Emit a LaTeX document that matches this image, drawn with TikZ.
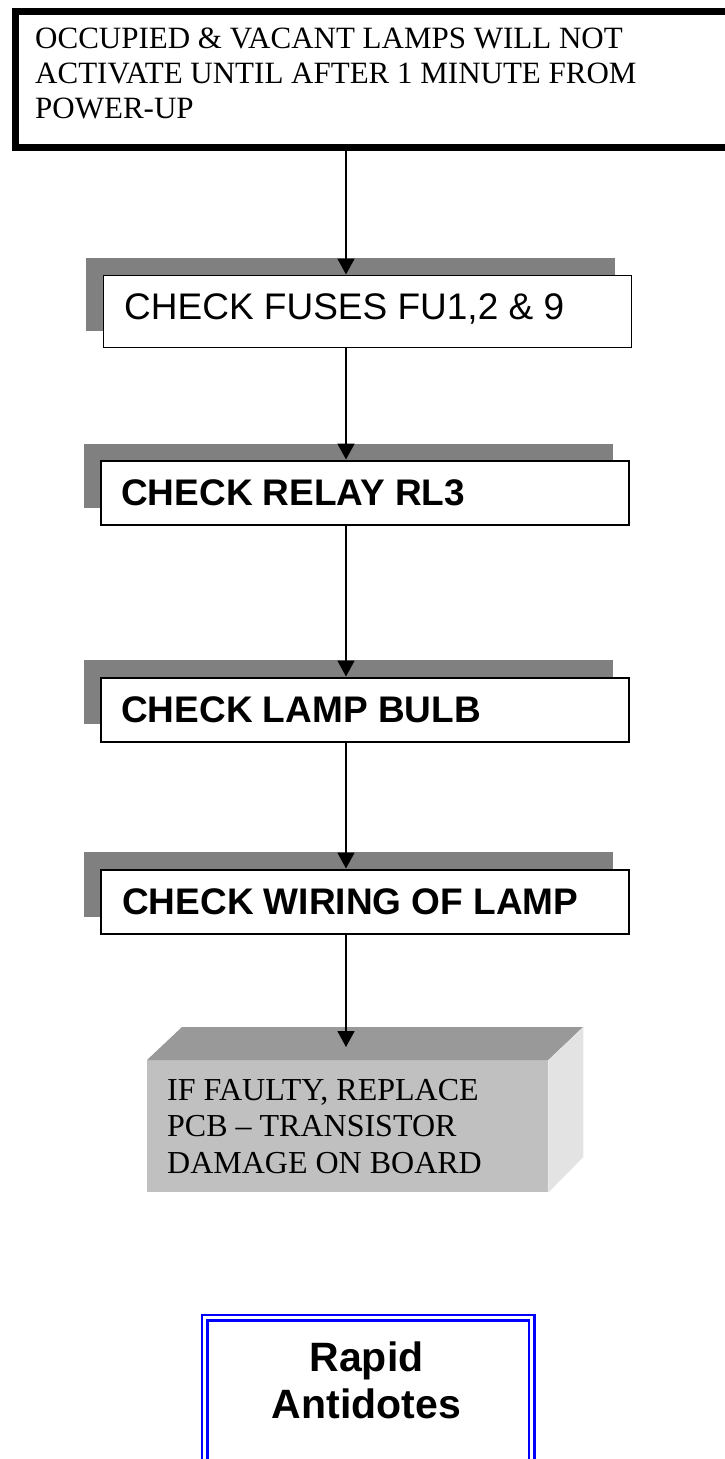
\documentclass[tikz,border=0pt]{standalone}
\usepackage{fontspec}
\setmainfont{Liberation Serif}
\newfontfamily\arialfont{Liberation Sans}
\usetikzlibrary{arrows.meta}
\definecolor{shadowgray}{HTML}{808080}
\definecolor{cubetop}{HTML}{999999}
\definecolor{cubefront}{HTML}{C0C0C0}
\definecolor{cubeside}{HTML}{E3E3E3}
\definecolor{frameblue}{HTML}{0000FF}
\begin{document}
\begin{tikzpicture}[x=1pt,y=-1pt,
  topframe/.style={draw=black,line width=7pt,fill=white,inner sep=0pt,anchor=north west},
  stepbox/.style={draw=black,line width=2.4pt,fill=white,inner sep=0pt,anchor=north west,
    minimum width=528pt,minimum height=64.5pt},
  thinbox/.style={stepbox,line width=1.2pt,minimum height=72pt},
  boxshadow/.style={fill=shadowgray},
  steptext/.style={anchor=base west,inner sep=0pt,font=\arialfont\fontsize{37}{44}\selectfont},
  boldtext/.style={steptext,font=\arialfont\bfseries\fontsize{37}{44}\selectfont},
  serifblock/.style={anchor=base west,inner sep=0pt},
  arr/.style={draw=black,line width=1.8pt,-{Triangle[length=16pt,width=17pt]}},
  rapidframe/.style={draw=frameblue,line width=2.5pt,double=white,double distance=3pt,
    inner sep=0pt,anchor=north west}
]
\useasboundingbox (0,0) rectangle (725,1459);
\fill[white] (0,0) rectangle (725,1459);
\clip (0,0) rectangle (725,1459);

% top frame
\node[topframe,minimum width=740pt,minimum height=136.4pt] (top) at (11.5,7.8) {};
\node[serifblock,font=\fontsize{31}{35}\selectfont] (toptext) at (35,48)
  {\vtop{\baselineskip=35pt\hbox{OCCUPIED \& VACANT LAMPS WILL NOT}\hbox{ACTIVATE UNTIL AFTER 1 MINUTE FROM}\hbox{POWER-UP}}};

% shadows
\fill[boxshadow] (86,258) rectangle (615,331);
\fill[boxshadow] (84,444) rectangle (613,508);
\fill[boxshadow] (84,660) rectangle (613,724);
\fill[boxshadow] (84,852) rectangle (613,917);

% step boxes
\node[thinbox] (b1) at (102.5,274.5) {};
\node[steptext] (t1) at (124,319) {CHECK FUSES FU1,2 \& 9};
\node[stepbox] (b2) at (100,459.5) {};
\node[boldtext] (t2) at (121,505) {CHECK RELAY RL3};
\node[stepbox] (b3) at (100,676.5) {};
\node[boldtext] (t3) at (121,722) {CHECK LAMP BULB};
\node[stepbox] (b4) at (100,868.5) {};
\node[boldtext] (t4) at (122,914) {CHECK WIRING OF LAMP};

% 3D box
\node[fill=cubefront,inner sep=0pt,anchor=north west,minimum width=401pt,minimum height=132pt] (cube) at (147,1060) {};
\fill[cubetop] (cube.north west) -- ++(35,-33) -- ++(401,0) -- (cube.north east) -- cycle;
\fill[cubeside] (cube.north east) -- ++(35,-33) -- ++(0,130) -- (cube.south east) -- cycle;
\node[serifblock,font=\fontsize{32}{36.5}\selectfont] (cubetext) at (167,1100)
  {\vtop{\baselineskip=36.5pt\hbox{IF FAULTY, REPLACE}\hbox{PCB -- TRANSISTOR}\hbox{DAMAGE ON BOARD}}};

% connectors
\coordinate (ax) at (346,0);
\coordinate (c5) at (346,1047);
\draw[arr] (top.south -| ax) -- (b1.north -| ax);
\draw[arr] (b1.south -| ax) -- (b2.north -| ax);
\draw[arr] (b2.south -| ax) -- (b3.north -| ax);
\draw[arr] (b3.south -| ax) -- (b4.north -| ax);
\draw[arr] (b4.south -| ax) -- (c5);

% Rapid Antidotes
\node[rapidframe,minimum width=327pt,minimum height=200pt] (rapid) at (203.5,1316.7) {};
\node[anchor=base,inner sep=0pt,font=\arialfont\bfseries\fontsize{41}{47}\selectfont] (rapidtext) at (366.5,1371)
  {\vtop{\baselineskip=47pt\halign{\hfil#\hfil\cr Rapid\cr Antidotes\cr}}};
\end{tikzpicture}
\end{document}
